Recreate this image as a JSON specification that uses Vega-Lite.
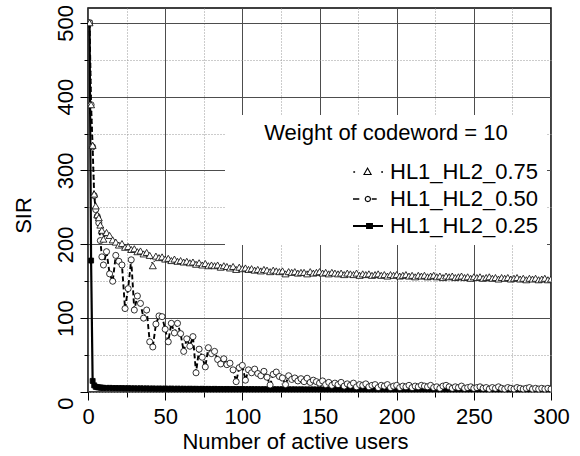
{
"$schema": "https://vega.github.io/schema/vega-lite/v6.json",
"width": 463, "height": 384,
"autosize": {"type": "none"},
"padding": {"left": 88, "top": 8, "right": 29, "bottom": 64},
"background": "white",
"config": {"view": {"stroke": "black", "strokeWidth": 1.5}, "font": "Liberation Sans"},
"data": {"values": [
{"x":1,"y":500,"s":"HL1_HL2_0.25"},{"x":2,"y":178,"s":"HL1_HL2_0.25"},{"x":3,"y":15,"s":"HL1_HL2_0.25"},{"x":4,"y":9,"s":"HL1_HL2_0.25"},{"x":5,"y":7,"s":"HL1_HL2_0.25"},{"x":6,"y":6.5,"s":"HL1_HL2_0.25"},{"x":7,"y":6.2,"s":"HL1_HL2_0.25"},{"x":8,"y":6,"s":"HL1_HL2_0.25"},{"x":9,"y":5.8,"s":"HL1_HL2_0.25"},{"x":10,"y":5.6,"s":"HL1_HL2_0.25"},
{"x":12,"y":5.5,"s":"HL1_HL2_0.25"},{"x":14,"y":5.6,"s":"HL1_HL2_0.25"},{"x":16,"y":5.3,"s":"HL1_HL2_0.25"},{"x":18,"y":5.4,"s":"HL1_HL2_0.25"},{"x":20,"y":5.2,"s":"HL1_HL2_0.25"},{"x":22,"y":5.3,"s":"HL1_HL2_0.25"},{"x":24,"y":5.0,"s":"HL1_HL2_0.25"},{"x":26,"y":5.2,"s":"HL1_HL2_0.25"},{"x":28,"y":4.9,"s":"HL1_HL2_0.25"},{"x":30,"y":5.0,"s":"HL1_HL2_0.25"},
{"x":32,"y":4.8,"s":"HL1_HL2_0.25"},{"x":34,"y":5.0,"s":"HL1_HL2_0.25"},{"x":36,"y":4.7,"s":"HL1_HL2_0.25"},{"x":38,"y":4.9,"s":"HL1_HL2_0.25"},{"x":40,"y":4.6,"s":"HL1_HL2_0.25"},{"x":42,"y":4.8,"s":"HL1_HL2_0.25"},{"x":44,"y":4.5,"s":"HL1_HL2_0.25"},{"x":46,"y":4.7,"s":"HL1_HL2_0.25"},{"x":48,"y":4.5,"s":"HL1_HL2_0.25"},{"x":50,"y":4.6,"s":"HL1_HL2_0.25"},
{"x":52,"y":4.4,"s":"HL1_HL2_0.25"},{"x":54,"y":4.6,"s":"HL1_HL2_0.25"},{"x":56,"y":4.3,"s":"HL1_HL2_0.25"},{"x":58,"y":4.5,"s":"HL1_HL2_0.25"},{"x":60,"y":4.3,"s":"HL1_HL2_0.25"},{"x":62,"y":4.4,"s":"HL1_HL2_0.25"},{"x":64,"y":4.2,"s":"HL1_HL2_0.25"},{"x":66,"y":4.4,"s":"HL1_HL2_0.25"},{"x":68,"y":4.2,"s":"HL1_HL2_0.25"},{"x":70,"y":4.3,"s":"HL1_HL2_0.25"},
{"x":72,"y":4.1,"s":"HL1_HL2_0.25"},{"x":74,"y":4.3,"s":"HL1_HL2_0.25"},{"x":76,"y":4.1,"s":"HL1_HL2_0.25"},{"x":78,"y":4.2,"s":"HL1_HL2_0.25"},{"x":80,"y":4.0,"s":"HL1_HL2_0.25"},{"x":82,"y":4.2,"s":"HL1_HL2_0.25"},{"x":84,"y":4.0,"s":"HL1_HL2_0.25"},{"x":86,"y":4.1,"s":"HL1_HL2_0.25"},{"x":88,"y":3.9,"s":"HL1_HL2_0.25"},{"x":90,"y":4.1,"s":"HL1_HL2_0.25"},
{"x":92,"y":3.9,"s":"HL1_HL2_0.25"},{"x":94,"y":4.0,"s":"HL1_HL2_0.25"},{"x":96,"y":3.8,"s":"HL1_HL2_0.25"},{"x":98,"y":4.0,"s":"HL1_HL2_0.25"},{"x":100,"y":3.8,"s":"HL1_HL2_0.25"},{"x":102,"y":3.9,"s":"HL1_HL2_0.25"},{"x":104,"y":3.7,"s":"HL1_HL2_0.25"},{"x":106,"y":3.9,"s":"HL1_HL2_0.25"},{"x":108,"y":3.7,"s":"HL1_HL2_0.25"},{"x":110,"y":3.8,"s":"HL1_HL2_0.25"},
{"x":112,"y":3.6,"s":"HL1_HL2_0.25"},{"x":114,"y":3.8,"s":"HL1_HL2_0.25"},{"x":116,"y":3.6,"s":"HL1_HL2_0.25"},{"x":118,"y":3.7,"s":"HL1_HL2_0.25"},{"x":120,"y":3.6,"s":"HL1_HL2_0.25"},{"x":122,"y":3.7,"s":"HL1_HL2_0.25"},{"x":124,"y":3.5,"s":"HL1_HL2_0.25"},{"x":126,"y":3.7,"s":"HL1_HL2_0.25"},{"x":128,"y":3.5,"s":"HL1_HL2_0.25"},{"x":130,"y":3.6,"s":"HL1_HL2_0.25"},
{"x":132,"y":3.5,"s":"HL1_HL2_0.25"},{"x":134,"y":3.6,"s":"HL1_HL2_0.25"},{"x":136,"y":3.4,"s":"HL1_HL2_0.25"},{"x":138,"y":3.6,"s":"HL1_HL2_0.25"},{"x":140,"y":3.4,"s":"HL1_HL2_0.25"},{"x":142,"y":3.5,"s":"HL1_HL2_0.25"},{"x":144,"y":3.4,"s":"HL1_HL2_0.25"},{"x":146,"y":3.5,"s":"HL1_HL2_0.25"},{"x":148,"y":3.3,"s":"HL1_HL2_0.25"},{"x":150,"y":3.5,"s":"HL1_HL2_0.25"},
{"x":152,"y":3.3,"s":"HL1_HL2_0.25"},{"x":154,"y":3.4,"s":"HL1_HL2_0.25"},{"x":156,"y":3.3,"s":"HL1_HL2_0.25"},{"x":158,"y":3.4,"s":"HL1_HL2_0.25"},{"x":160,"y":3.2,"s":"HL1_HL2_0.25"},{"x":162,"y":3.4,"s":"HL1_HL2_0.25"},{"x":164,"y":3.2,"s":"HL1_HL2_0.25"},{"x":166,"y":3.3,"s":"HL1_HL2_0.25"},{"x":168,"y":3.2,"s":"HL1_HL2_0.25"},{"x":170,"y":3.3,"s":"HL1_HL2_0.25"},
{"x":172,"y":3.1,"s":"HL1_HL2_0.25"},{"x":174,"y":3.3,"s":"HL1_HL2_0.25"},{"x":176,"y":3.1,"s":"HL1_HL2_0.25"},{"x":178,"y":3.2,"s":"HL1_HL2_0.25"},{"x":180,"y":3.1,"s":"HL1_HL2_0.25"},{"x":182,"y":3.2,"s":"HL1_HL2_0.25"},{"x":184,"y":3.0,"s":"HL1_HL2_0.25"},{"x":186,"y":3.2,"s":"HL1_HL2_0.25"},{"x":188,"y":3.0,"s":"HL1_HL2_0.25"},{"x":190,"y":3.1,"s":"HL1_HL2_0.25"},
{"x":192,"y":3.0,"s":"HL1_HL2_0.25"},{"x":194,"y":3.1,"s":"HL1_HL2_0.25"},{"x":196,"y":2.9,"s":"HL1_HL2_0.25"},{"x":198,"y":3.1,"s":"HL1_HL2_0.25"},{"x":200,"y":2.9,"s":"HL1_HL2_0.25"},{"x":202,"y":3.0,"s":"HL1_HL2_0.25"},{"x":204,"y":2.9,"s":"HL1_HL2_0.25"},{"x":206,"y":3.0,"s":"HL1_HL2_0.25"},{"x":208,"y":2.9,"s":"HL1_HL2_0.25"},{"x":210,"y":3.0,"s":"HL1_HL2_0.25"},
{"x":212,"y":2.8,"s":"HL1_HL2_0.25"},{"x":214,"y":3.0,"s":"HL1_HL2_0.25"},{"x":216,"y":2.8,"s":"HL1_HL2_0.25"},{"x":218,"y":2.9,"s":"HL1_HL2_0.25"},{"x":220,"y":2.8,"s":"HL1_HL2_0.25"},{"x":222,"y":2.9,"s":"HL1_HL2_0.25"},{"x":224,"y":2.8,"s":"HL1_HL2_0.25"},{"x":226,"y":2.9,"s":"HL1_HL2_0.25"},{"x":228,"y":2.7,"s":"HL1_HL2_0.25"},{"x":230,"y":2.9,"s":"HL1_HL2_0.25"},
{"x":232,"y":2.7,"s":"HL1_HL2_0.25"},{"x":234,"y":2.8,"s":"HL1_HL2_0.25"},{"x":236,"y":2.7,"s":"HL1_HL2_0.25"},{"x":238,"y":2.8,"s":"HL1_HL2_0.25"},{"x":240,"y":2.7,"s":"HL1_HL2_0.25"},{"x":242,"y":2.8,"s":"HL1_HL2_0.25"},{"x":244,"y":2.6,"s":"HL1_HL2_0.25"},{"x":246,"y":2.8,"s":"HL1_HL2_0.25"},{"x":248,"y":2.6,"s":"HL1_HL2_0.25"},{"x":250,"y":2.7,"s":"HL1_HL2_0.25"},
{"x":252,"y":2.6,"s":"HL1_HL2_0.25"},{"x":254,"y":2.7,"s":"HL1_HL2_0.25"},{"x":256,"y":2.6,"s":"HL1_HL2_0.25"},{"x":258,"y":2.7,"s":"HL1_HL2_0.25"},{"x":260,"y":2.5,"s":"HL1_HL2_0.25"},{"x":262,"y":2.7,"s":"HL1_HL2_0.25"},{"x":264,"y":2.5,"s":"HL1_HL2_0.25"},{"x":266,"y":2.6,"s":"HL1_HL2_0.25"},{"x":268,"y":2.5,"s":"HL1_HL2_0.25"},{"x":270,"y":2.6,"s":"HL1_HL2_0.25"},
{"x":272,"y":2.5,"s":"HL1_HL2_0.25"},{"x":274,"y":2.6,"s":"HL1_HL2_0.25"},{"x":276,"y":2.4,"s":"HL1_HL2_0.25"},{"x":278,"y":2.6,"s":"HL1_HL2_0.25"},{"x":280,"y":2.4,"s":"HL1_HL2_0.25"},{"x":282,"y":2.5,"s":"HL1_HL2_0.25"},{"x":284,"y":2.4,"s":"HL1_HL2_0.25"},{"x":286,"y":2.5,"s":"HL1_HL2_0.25"},{"x":288,"y":2.4,"s":"HL1_HL2_0.25"},{"x":290,"y":2.5,"s":"HL1_HL2_0.25"},
{"x":292,"y":2.3,"s":"HL1_HL2_0.25"},{"x":294,"y":2.5,"s":"HL1_HL2_0.25"},{"x":296,"y":2.3,"s":"HL1_HL2_0.25"},{"x":298,"y":2.4,"s":"HL1_HL2_0.25"},{"x":300,"y":2.3,"s":"HL1_HL2_0.25"},
{"x":1,"y":500,"s":"HL1_HL2_0.50"},{"x":2,"y":389,"s":"HL1_HL2_0.50"},{"x":3,"y":332,"s":"HL1_HL2_0.50"},{"x":4,"y":266,"s":"HL1_HL2_0.50"},{"x":5,"y":247,"s":"HL1_HL2_0.50"},{"x":6,"y":238,"s":"HL1_HL2_0.50"},{"x":7,"y":229,"s":"HL1_HL2_0.50"},{"x":8,"y":205,"s":"HL1_HL2_0.50"},{"x":9,"y":183,"s":"HL1_HL2_0.50"},{"x":10,"y":172,"s":"HL1_HL2_0.50"},
{"x":12,"y":190,"s":"HL1_HL2_0.50"},{"x":14,"y":160,"s":"HL1_HL2_0.50"},{"x":16,"y":150,"s":"HL1_HL2_0.50"},{"x":18,"y":185,"s":"HL1_HL2_0.50"},{"x":20,"y":177,"s":"HL1_HL2_0.50"},{"x":22,"y":172,"s":"HL1_HL2_0.50"},{"x":24,"y":113,"s":"HL1_HL2_0.50"},{"x":26,"y":140,"s":"HL1_HL2_0.50"},{"x":28,"y":179,"s":"HL1_HL2_0.50"},{"x":30,"y":111,"s":"HL1_HL2_0.50"},
{"x":32,"y":130,"s":"HL1_HL2_0.50"},{"x":34,"y":120,"s":"HL1_HL2_0.50"},{"x":36,"y":100,"s":"HL1_HL2_0.50"},{"x":38,"y":111,"s":"HL1_HL2_0.50"},{"x":40,"y":68,"s":"HL1_HL2_0.50"},{"x":42,"y":61,"s":"HL1_HL2_0.50"},{"x":44,"y":92,"s":"HL1_HL2_0.50"},{"x":46,"y":103,"s":"HL1_HL2_0.50"},{"x":48,"y":102,"s":"HL1_HL2_0.50"},{"x":50,"y":85,"s":"HL1_HL2_0.50"},
{"x":52,"y":68,"s":"HL1_HL2_0.50"},{"x":54,"y":93,"s":"HL1_HL2_0.50"},{"x":56,"y":80,"s":"HL1_HL2_0.50"},{"x":58,"y":93,"s":"HL1_HL2_0.50"},{"x":60,"y":79,"s":"HL1_HL2_0.50"},{"x":62,"y":55,"s":"HL1_HL2_0.50"},{"x":64,"y":72,"s":"HL1_HL2_0.50"},{"x":66,"y":62,"s":"HL1_HL2_0.50"},{"x":68,"y":75,"s":"HL1_HL2_0.50"},{"x":70,"y":26,"s":"HL1_HL2_0.50"},
{"x":72,"y":58,"s":"HL1_HL2_0.50"},{"x":74,"y":47,"s":"HL1_HL2_0.50"},{"x":76,"y":34,"s":"HL1_HL2_0.50"},{"x":78,"y":60,"s":"HL1_HL2_0.50"},{"x":80,"y":52,"s":"HL1_HL2_0.50"},{"x":82,"y":55,"s":"HL1_HL2_0.50"},{"x":84,"y":44,"s":"HL1_HL2_0.50"},{"x":86,"y":38,"s":"HL1_HL2_0.50"},{"x":88,"y":45,"s":"HL1_HL2_0.50"},{"x":90,"y":37,"s":"HL1_HL2_0.50"},
{"x":92,"y":39,"s":"HL1_HL2_0.50"},{"x":94,"y":30,"s":"HL1_HL2_0.50"},{"x":96,"y":14,"s":"HL1_HL2_0.50"},{"x":98,"y":33,"s":"HL1_HL2_0.50"},{"x":100,"y":36,"s":"HL1_HL2_0.50"},{"x":102,"y":16,"s":"HL1_HL2_0.50"},{"x":104,"y":30,"s":"HL1_HL2_0.50"},{"x":106,"y":26,"s":"HL1_HL2_0.50"},{"x":108,"y":31,"s":"HL1_HL2_0.50"},{"x":110,"y":25,"s":"HL1_HL2_0.50"},
{"x":112,"y":22,"s":"HL1_HL2_0.50"},{"x":114,"y":28,"s":"HL1_HL2_0.50"},{"x":116,"y":20,"s":"HL1_HL2_0.50"},{"x":118,"y":9.5,"s":"HL1_HL2_0.50"},{"x":120,"y":24,"s":"HL1_HL2_0.50"},{"x":122,"y":27,"s":"HL1_HL2_0.50"},{"x":124,"y":21,"s":"HL1_HL2_0.50"},{"x":126,"y":19,"s":"HL1_HL2_0.50"},{"x":128,"y":10,"s":"HL1_HL2_0.50"},{"x":130,"y":22,"s":"HL1_HL2_0.50"},
{"x":132,"y":17,"s":"HL1_HL2_0.50"},{"x":134,"y":19,"s":"HL1_HL2_0.50"},{"x":136,"y":15,"s":"HL1_HL2_0.50"},{"x":138,"y":18,"s":"HL1_HL2_0.50"},{"x":140,"y":14,"s":"HL1_HL2_0.50"},{"x":142,"y":18.6,"s":"HL1_HL2_0.50"},{"x":144,"y":13,"s":"HL1_HL2_0.50"},{"x":146,"y":16,"s":"HL1_HL2_0.50"},{"x":148,"y":14,"s":"HL1_HL2_0.50"},{"x":150,"y":12,"s":"HL1_HL2_0.50"},
{"x":152,"y":15,"s":"HL1_HL2_0.50"},{"x":154,"y":10,"s":"HL1_HL2_0.50"},{"x":156,"y":13,"s":"HL1_HL2_0.50"},{"x":158,"y":9,"s":"HL1_HL2_0.50"},{"x":160,"y":12,"s":"HL1_HL2_0.50"},{"x":162,"y":10,"s":"HL1_HL2_0.50"},{"x":164,"y":13,"s":"HL1_HL2_0.50"},{"x":166,"y":8,"s":"HL1_HL2_0.50"},{"x":168,"y":11,"s":"HL1_HL2_0.50"},{"x":170,"y":9,"s":"HL1_HL2_0.50"},
{"x":172,"y":12,"s":"HL1_HL2_0.50"},{"x":174,"y":7,"s":"HL1_HL2_0.50"},{"x":176,"y":10,"s":"HL1_HL2_0.50"},{"x":178,"y":9,"s":"HL1_HL2_0.50"},{"x":180,"y":11,"s":"HL1_HL2_0.50"},{"x":182,"y":7,"s":"HL1_HL2_0.50"},{"x":184,"y":9,"s":"HL1_HL2_0.50"},{"x":186,"y":10,"s":"HL1_HL2_0.50"},{"x":188,"y":6,"s":"HL1_HL2_0.50"},{"x":190,"y":9,"s":"HL1_HL2_0.50"},
{"x":192,"y":8,"s":"HL1_HL2_0.50"},{"x":194,"y":10,"s":"HL1_HL2_0.50"},{"x":196,"y":6,"s":"HL1_HL2_0.50"},{"x":198,"y":8,"s":"HL1_HL2_0.50"},{"x":200,"y":9,"s":"HL1_HL2_0.50"},{"x":202,"y":6,"s":"HL1_HL2_0.50"},{"x":204,"y":8,"s":"HL1_HL2_0.50"},{"x":206,"y":7,"s":"HL1_HL2_0.50"},{"x":208,"y":9,"s":"HL1_HL2_0.50"},{"x":210,"y":6,"s":"HL1_HL2_0.50"},
{"x":212,"y":8,"s":"HL1_HL2_0.50"},{"x":214,"y":7,"s":"HL1_HL2_0.50"},{"x":216,"y":9,"s":"HL1_HL2_0.50"},{"x":218,"y":8,"s":"HL1_HL2_0.50"},{"x":220,"y":7,"s":"HL1_HL2_0.50"},{"x":222,"y":9,"s":"HL1_HL2_0.50"},{"x":224,"y":6,"s":"HL1_HL2_0.50"},{"x":226,"y":7,"s":"HL1_HL2_0.50"},{"x":228,"y":5,"s":"HL1_HL2_0.50"},{"x":230,"y":8,"s":"HL1_HL2_0.50"},
{"x":232,"y":9,"s":"HL1_HL2_0.50"},{"x":234,"y":7,"s":"HL1_HL2_0.50"},{"x":236,"y":5,"s":"HL1_HL2_0.50"},{"x":238,"y":7,"s":"HL1_HL2_0.50"},{"x":240,"y":6,"s":"HL1_HL2_0.50"},{"x":242,"y":8,"s":"HL1_HL2_0.50"},{"x":244,"y":5,"s":"HL1_HL2_0.50"},{"x":246,"y":6,"s":"HL1_HL2_0.50"},{"x":248,"y":7,"s":"HL1_HL2_0.50"},{"x":250,"y":5,"s":"HL1_HL2_0.50"},
{"x":252,"y":6,"s":"HL1_HL2_0.50"},{"x":254,"y":7,"s":"HL1_HL2_0.50"},{"x":256,"y":5,"s":"HL1_HL2_0.50"},{"x":258,"y":6,"s":"HL1_HL2_0.50"},{"x":260,"y":4,"s":"HL1_HL2_0.50"},{"x":262,"y":6,"s":"HL1_HL2_0.50"},{"x":264,"y":5,"s":"HL1_HL2_0.50"},{"x":266,"y":7,"s":"HL1_HL2_0.50"},{"x":268,"y":5,"s":"HL1_HL2_0.50"},{"x":270,"y":4,"s":"HL1_HL2_0.50"},
{"x":272,"y":6,"s":"HL1_HL2_0.50"},{"x":274,"y":5,"s":"HL1_HL2_0.50"},{"x":276,"y":4,"s":"HL1_HL2_0.50"},{"x":278,"y":6,"s":"HL1_HL2_0.50"},{"x":280,"y":5,"s":"HL1_HL2_0.50"},{"x":282,"y":4,"s":"HL1_HL2_0.50"},{"x":284,"y":5,"s":"HL1_HL2_0.50"},{"x":286,"y":6,"s":"HL1_HL2_0.50"},{"x":288,"y":4,"s":"HL1_HL2_0.50"},{"x":290,"y":5,"s":"HL1_HL2_0.50"},
{"x":292,"y":4,"s":"HL1_HL2_0.50"},{"x":294,"y":5,"s":"HL1_HL2_0.50"},{"x":296,"y":4,"s":"HL1_HL2_0.50"},{"x":298,"y":5,"s":"HL1_HL2_0.50"},{"x":300,"y":4,"s":"HL1_HL2_0.50"},
{"x":1,"y":500,"s":"HL1_HL2_0.75"},{"x":2,"y":389,"s":"HL1_HL2_0.75"},{"x":3,"y":334,"s":"HL1_HL2_0.75"},{"x":4,"y":268,"s":"HL1_HL2_0.75"},{"x":5,"y":252,"s":"HL1_HL2_0.75"},{"x":6,"y":240,"s":"HL1_HL2_0.75"},{"x":7,"y":236,"s":"HL1_HL2_0.75"},{"x":8,"y":226,"s":"HL1_HL2_0.75"},{"x":9,"y":219,"s":"HL1_HL2_0.75"},{"x":10,"y":207,"s":"HL1_HL2_0.75"},
{"x":12,"y":216,"s":"HL1_HL2_0.75"},{"x":14,"y":212,"s":"HL1_HL2_0.75"},{"x":16,"y":206,"s":"HL1_HL2_0.75"},{"x":18,"y":203,"s":"HL1_HL2_0.75"},{"x":20,"y":199,"s":"HL1_HL2_0.75"},{"x":22,"y":201,"s":"HL1_HL2_0.75"},{"x":24,"y":196,"s":"HL1_HL2_0.75"},{"x":26,"y":197,"s":"HL1_HL2_0.75"},{"x":28,"y":193,"s":"HL1_HL2_0.75"},{"x":30,"y":194,"s":"HL1_HL2_0.75"},
{"x":32,"y":190,"s":"HL1_HL2_0.75"},{"x":34,"y":191,"s":"HL1_HL2_0.75"},{"x":36,"y":187,"s":"HL1_HL2_0.75"},{"x":38,"y":189,"s":"HL1_HL2_0.75"},{"x":40,"y":185,"s":"HL1_HL2_0.75"},{"x":42,"y":171,"s":"HL1_HL2_0.75"},{"x":44,"y":184,"s":"HL1_HL2_0.75"},{"x":46,"y":182,"s":"HL1_HL2_0.75"},{"x":48,"y":183,"s":"HL1_HL2_0.75"},{"x":50,"y":180,"s":"HL1_HL2_0.75"},
{"x":52,"y":181,"s":"HL1_HL2_0.75"},{"x":54,"y":178,"s":"HL1_HL2_0.75"},{"x":56,"y":180,"s":"HL1_HL2_0.75"},{"x":58,"y":177,"s":"HL1_HL2_0.75"},{"x":60,"y":178,"s":"HL1_HL2_0.75"},{"x":62,"y":176,"s":"HL1_HL2_0.75"},{"x":64,"y":177,"s":"HL1_HL2_0.75"},{"x":66,"y":175,"s":"HL1_HL2_0.75"},{"x":68,"y":176,"s":"HL1_HL2_0.75"},{"x":70,"y":173,"s":"HL1_HL2_0.75"},
{"x":72,"y":175,"s":"HL1_HL2_0.75"},{"x":74,"y":172,"s":"HL1_HL2_0.75"},{"x":76,"y":174,"s":"HL1_HL2_0.75"},{"x":78,"y":171,"s":"HL1_HL2_0.75"},{"x":80,"y":172,"s":"HL1_HL2_0.75"},{"x":82,"y":171,"s":"HL1_HL2_0.75"},{"x":84,"y":172,"s":"HL1_HL2_0.75"},{"x":86,"y":169,"s":"HL1_HL2_0.75"},{"x":88,"y":171,"s":"HL1_HL2_0.75"},{"x":90,"y":170,"s":"HL1_HL2_0.75"},
{"x":92,"y":168,"s":"HL1_HL2_0.75"},{"x":94,"y":170,"s":"HL1_HL2_0.75"},{"x":96,"y":166,"s":"HL1_HL2_0.75"},{"x":98,"y":169,"s":"HL1_HL2_0.75"},{"x":100,"y":167,"s":"HL1_HL2_0.75"},{"x":102,"y":168,"s":"HL1_HL2_0.75"},{"x":104,"y":166,"s":"HL1_HL2_0.75"},{"x":106,"y":167,"s":"HL1_HL2_0.75"},{"x":108,"y":165,"s":"HL1_HL2_0.75"},{"x":110,"y":166,"s":"HL1_HL2_0.75"},
{"x":112,"y":164,"s":"HL1_HL2_0.75"},{"x":114,"y":166,"s":"HL1_HL2_0.75"},{"x":116,"y":165,"s":"HL1_HL2_0.75"},{"x":118,"y":163,"s":"HL1_HL2_0.75"},{"x":120,"y":165,"s":"HL1_HL2_0.75"},{"x":122,"y":164,"s":"HL1_HL2_0.75"},{"x":124,"y":163,"s":"HL1_HL2_0.75"},{"x":126,"y":164,"s":"HL1_HL2_0.75"},{"x":128,"y":160,"s":"HL1_HL2_0.75"},{"x":130,"y":163,"s":"HL1_HL2_0.75"},
{"x":132,"y":162,"s":"HL1_HL2_0.75"},{"x":134,"y":163,"s":"HL1_HL2_0.75"},{"x":136,"y":161,"s":"HL1_HL2_0.75"},{"x":138,"y":162,"s":"HL1_HL2_0.75"},{"x":140,"y":162,"s":"HL1_HL2_0.75"},{"x":142,"y":160,"s":"HL1_HL2_0.75"},{"x":144,"y":163,"s":"HL1_HL2_0.75"},{"x":146,"y":161,"s":"HL1_HL2_0.75"},{"x":148,"y":162,"s":"HL1_HL2_0.75"},{"x":150,"y":163,"s":"HL1_HL2_0.75"},
{"x":152,"y":161,"s":"HL1_HL2_0.75"},{"x":154,"y":162,"s":"HL1_HL2_0.75"},{"x":156,"y":160,"s":"HL1_HL2_0.75"},{"x":158,"y":162,"s":"HL1_HL2_0.75"},{"x":160,"y":161,"s":"HL1_HL2_0.75"},{"x":162,"y":160,"s":"HL1_HL2_0.75"},{"x":164,"y":161,"s":"HL1_HL2_0.75"},{"x":166,"y":159,"s":"HL1_HL2_0.75"},{"x":168,"y":161,"s":"HL1_HL2_0.75"},{"x":170,"y":160,"s":"HL1_HL2_0.75"},
{"x":172,"y":159,"s":"HL1_HL2_0.75"},{"x":174,"y":161,"s":"HL1_HL2_0.75"},{"x":176,"y":158,"s":"HL1_HL2_0.75"},{"x":178,"y":160,"s":"HL1_HL2_0.75"},{"x":180,"y":159,"s":"HL1_HL2_0.75"},{"x":182,"y":160,"s":"HL1_HL2_0.75"},{"x":184,"y":158,"s":"HL1_HL2_0.75"},{"x":186,"y":159,"s":"HL1_HL2_0.75"},{"x":188,"y":160,"s":"HL1_HL2_0.75"},{"x":190,"y":158,"s":"HL1_HL2_0.75"},
{"x":192,"y":159,"s":"HL1_HL2_0.75"},{"x":194,"y":157,"s":"HL1_HL2_0.75"},{"x":196,"y":159,"s":"HL1_HL2_0.75"},{"x":198,"y":158,"s":"HL1_HL2_0.75"},{"x":200,"y":159,"s":"HL1_HL2_0.75"},{"x":202,"y":157,"s":"HL1_HL2_0.75"},{"x":204,"y":158,"s":"HL1_HL2_0.75"},{"x":206,"y":159,"s":"HL1_HL2_0.75"},{"x":208,"y":157,"s":"HL1_HL2_0.75"},{"x":210,"y":158,"s":"HL1_HL2_0.75"},
{"x":212,"y":156,"s":"HL1_HL2_0.75"},{"x":214,"y":158,"s":"HL1_HL2_0.75"},{"x":216,"y":157,"s":"HL1_HL2_0.75"},{"x":218,"y":158,"s":"HL1_HL2_0.75"},{"x":220,"y":156,"s":"HL1_HL2_0.75"},{"x":222,"y":157,"s":"HL1_HL2_0.75"},{"x":224,"y":158,"s":"HL1_HL2_0.75"},{"x":226,"y":156,"s":"HL1_HL2_0.75"},{"x":228,"y":157,"s":"HL1_HL2_0.75"},{"x":230,"y":155,"s":"HL1_HL2_0.75"},
{"x":232,"y":157,"s":"HL1_HL2_0.75"},{"x":234,"y":156,"s":"HL1_HL2_0.75"},{"x":236,"y":157,"s":"HL1_HL2_0.75"},{"x":238,"y":155,"s":"HL1_HL2_0.75"},{"x":240,"y":156,"s":"HL1_HL2_0.75"},{"x":242,"y":157,"s":"HL1_HL2_0.75"},{"x":244,"y":155,"s":"HL1_HL2_0.75"},{"x":246,"y":156,"s":"HL1_HL2_0.75"},{"x":248,"y":154,"s":"HL1_HL2_0.75"},{"x":250,"y":156,"s":"HL1_HL2_0.75"},
{"x":252,"y":155,"s":"HL1_HL2_0.75"},{"x":254,"y":156,"s":"HL1_HL2_0.75"},{"x":256,"y":154,"s":"HL1_HL2_0.75"},{"x":258,"y":155,"s":"HL1_HL2_0.75"},{"x":260,"y":156,"s":"HL1_HL2_0.75"},{"x":262,"y":154,"s":"HL1_HL2_0.75"},{"x":264,"y":155,"s":"HL1_HL2_0.75"},{"x":266,"y":153,"s":"HL1_HL2_0.75"},{"x":268,"y":155,"s":"HL1_HL2_0.75"},{"x":270,"y":154,"s":"HL1_HL2_0.75"},
{"x":272,"y":155,"s":"HL1_HL2_0.75"},{"x":274,"y":153,"s":"HL1_HL2_0.75"},{"x":276,"y":154,"s":"HL1_HL2_0.75"},{"x":278,"y":155,"s":"HL1_HL2_0.75"},{"x":280,"y":153,"s":"HL1_HL2_0.75"},{"x":282,"y":154,"s":"HL1_HL2_0.75"},{"x":284,"y":152,"s":"HL1_HL2_0.75"},{"x":286,"y":154,"s":"HL1_HL2_0.75"},{"x":288,"y":153,"s":"HL1_HL2_0.75"},{"x":290,"y":154,"s":"HL1_HL2_0.75"},
{"x":292,"y":152,"s":"HL1_HL2_0.75"},{"x":294,"y":153,"s":"HL1_HL2_0.75"},{"x":296,"y":154,"s":"HL1_HL2_0.75"},{"x":298,"y":152,"s":"HL1_HL2_0.75"},{"x":300,"y":153,"s":"HL1_HL2_0.75"}
]},
"layer": [
{
"mark": {"type": "line", "stroke": "black", "clip": true},
"encoding": {
"x": {"field": "x", "type": "quantitative", "scale": {"domain": [0, 300], "nice": false, "zero": false},
 "axis": {"orient": "bottom", "values": [0,50,100,150,200,250,300], "grid": true, "gridColor": "#4d4d4d", "gridWidth": 1, "gridOpacity": 1, "domain": false, "ticks": true, "tickSize": 8, "tickColor": "black", "tickWidth": 1, "labelFontSize": 22, "labelFont": "Liberation Sans", "labelColor": "black", "labelBaseline": "alphabetic", "labelPadding": 23, "labelFlush": false, "labelOverlap": false, "title": "Number of active users", "titleFont": "Liberation Sans", "titleFontSize": 22, "titleFontWeight": "normal", "titleColor": "black", "titleX": 207, "titleY": 56, "titleAlign": "center", "titleBaseline": "alphabetic"}},
"y": {"field": "y", "type": "quantitative", "scale": {"domain": [0, 520], "nice": false, "zero": false},
 "axis": {"orient": "left", "values": [0,100,200,300,400,500], "grid": true, "gridColor": "#4d4d4d", "gridWidth": 1, "gridOpacity": 1, "domain": false, "ticks": true, "tickSize": 8, "tickColor": "black", "tickWidth": 1, "labelFontSize": 22, "labelFont": "Liberation Sans", "labelColor": "black", "labelAngle": 270, "labelAlign": "center", "labelBaseline": "alphabetic", "labelPadding": 8, "labelFlush": false, "labelOverlap": false, "labelExpr": "datum.value == 0 ? '' : datum.label", "title": "SIR", "titleFont": "Liberation Sans", "titleFontSize": 22, "titleFontWeight": "normal", "titleColor": "black", "titleAngle": 270, "titleX": -58, "titleY": 207, "titleAlign": "center", "titleBaseline": "alphabetic"}},
"strokeDash": {"field": "s", "type": "nominal", "scale": {"range": [[1,0],[5,3],[1,3]]}, "legend": null},
"strokeWidth": {"field": "s", "type": "nominal", "scale": {"range": [2.2,1.6,1]}, "legend": null},
"order": {"field": "x", "type": "quantitative"}
}
},
{
"mark": {"type": "point", "filled": true, "stroke": "black", "strokeWidth": 0.8, "opacity": 1, "clip": true},
"encoding": {
"x": {"field": "x", "type": "quantitative", "scale": {"domain": [0, 300], "nice": false, "zero": false},
 "axis": {"orient": "bottom", "values": [25,75,125,175,225,275], "grid": true, "gridColor": "#999999", "gridDash": [1,2], "gridWidth": 1, "gridOpacity": 1, "domain": false, "ticks": true, "tickSize": 5, "tickColor": "black", "tickWidth": 1, "labels": false, "title": null}},
"y": {"field": "y", "type": "quantitative", "scale": {"domain": [0, 520], "nice": false, "zero": false},
 "axis": {"orient": "left", "values": [0,50,150,250,350,450], "grid": true, "gridColor": "#999999", "gridDash": [1,2], "gridWidth": 1, "gridOpacity": 1, "domain": false, "ticks": true, "tickSize": 4, "tickColor": "black", "tickWidth": 1, "labels": true, "labelExpr": "datum.value == 0 ? '0' : ''", "labelOffset": 11, "labelFontSize": 22, "labelFont": "Liberation Sans", "labelColor": "black", "labelAngle": 270, "labelAlign": "center", "labelBaseline": "alphabetic", "labelPadding": 12, "labelFlush": false, "labelOverlap": false, "title": null}},
"shape": {"field": "s", "type": "nominal", "scale": {"range": ["square","circle","triangle-up"]}, "legend": null},
"fill": {"field": "s", "type": "nominal", "scale": {"range": ["black","white","white"]}, "legend": null},
"size": {"field": "s", "type": "nominal", "scale": {"range": [25,49,70]}, "legend": null}
}
},
{
"transform": [{"filter": "false"}],
"mark": {"type": "point", "filled": true, "fill": "black", "strokeWidth": 0, "opacity": 1},
"encoding": {
"shape": {"field": "s", "type": "nominal",
 "scale": {"domain": ["HL1_HL2_0.75","HL1_HL2_0.50","HL1_HL2_0.25"], "range": [
  "M-0.98,-0.05H-0.86V0.05H-0.98ZM0.88,-0.05H1V0.05H0.88ZM-0.03,-0.33L0.27,0.2L-0.33,0.2ZM-0.03,-0.19L-0.21,0.13L0.15,0.13Z",
  "M-1,-0.05H-0.58V0.05H-1ZM0.25,-0.05H0.58V0.05H0.25ZM0.21,0L0.146,0.156L-0.01,0.22L-0.166,0.156L-0.23,0L-0.166,-0.156L-0.01,-0.22L0.146,-0.156ZM0.13,0L0.089,-0.099L-0.01,-0.14L-0.109,-0.099L-0.15,0L-0.109,0.099L-0.01,0.14L0.089,0.099Z",
  "M-1,-0.06H1V0.06H-1ZM-0.13,-0.2H0.33V0.2H-0.13Z"]},
 "legend": {"orient": "none", "legendX": 137, "legendY": 107, "title": "Weight of codeword = 10", "titleFont": "Liberation Sans", "titleFontSize": 22, "titleFontWeight": "normal", "titleColor": "black", "titleAnchor": "middle", "titleLimit": 500, "titlePadding": 16, "labelFont": "Liberation Sans", "labelFontSize": 22, "labelColor": "black", "labelLimit": 400, "labelOffset": 7, "symbolSize": 900, "symbolOffset": 120, "symbolStrokeWidth": 0, "symbolFillColor": "black", "symbolOpacity": 1, "clipHeight": 22, "rowPadding": 5, "padding": 8, "fillColor": "white"}}
}
}
],
"resolve": {"axis": {"x": "independent", "y": "independent"}, "scale": {"shape": "independent"}}
}
